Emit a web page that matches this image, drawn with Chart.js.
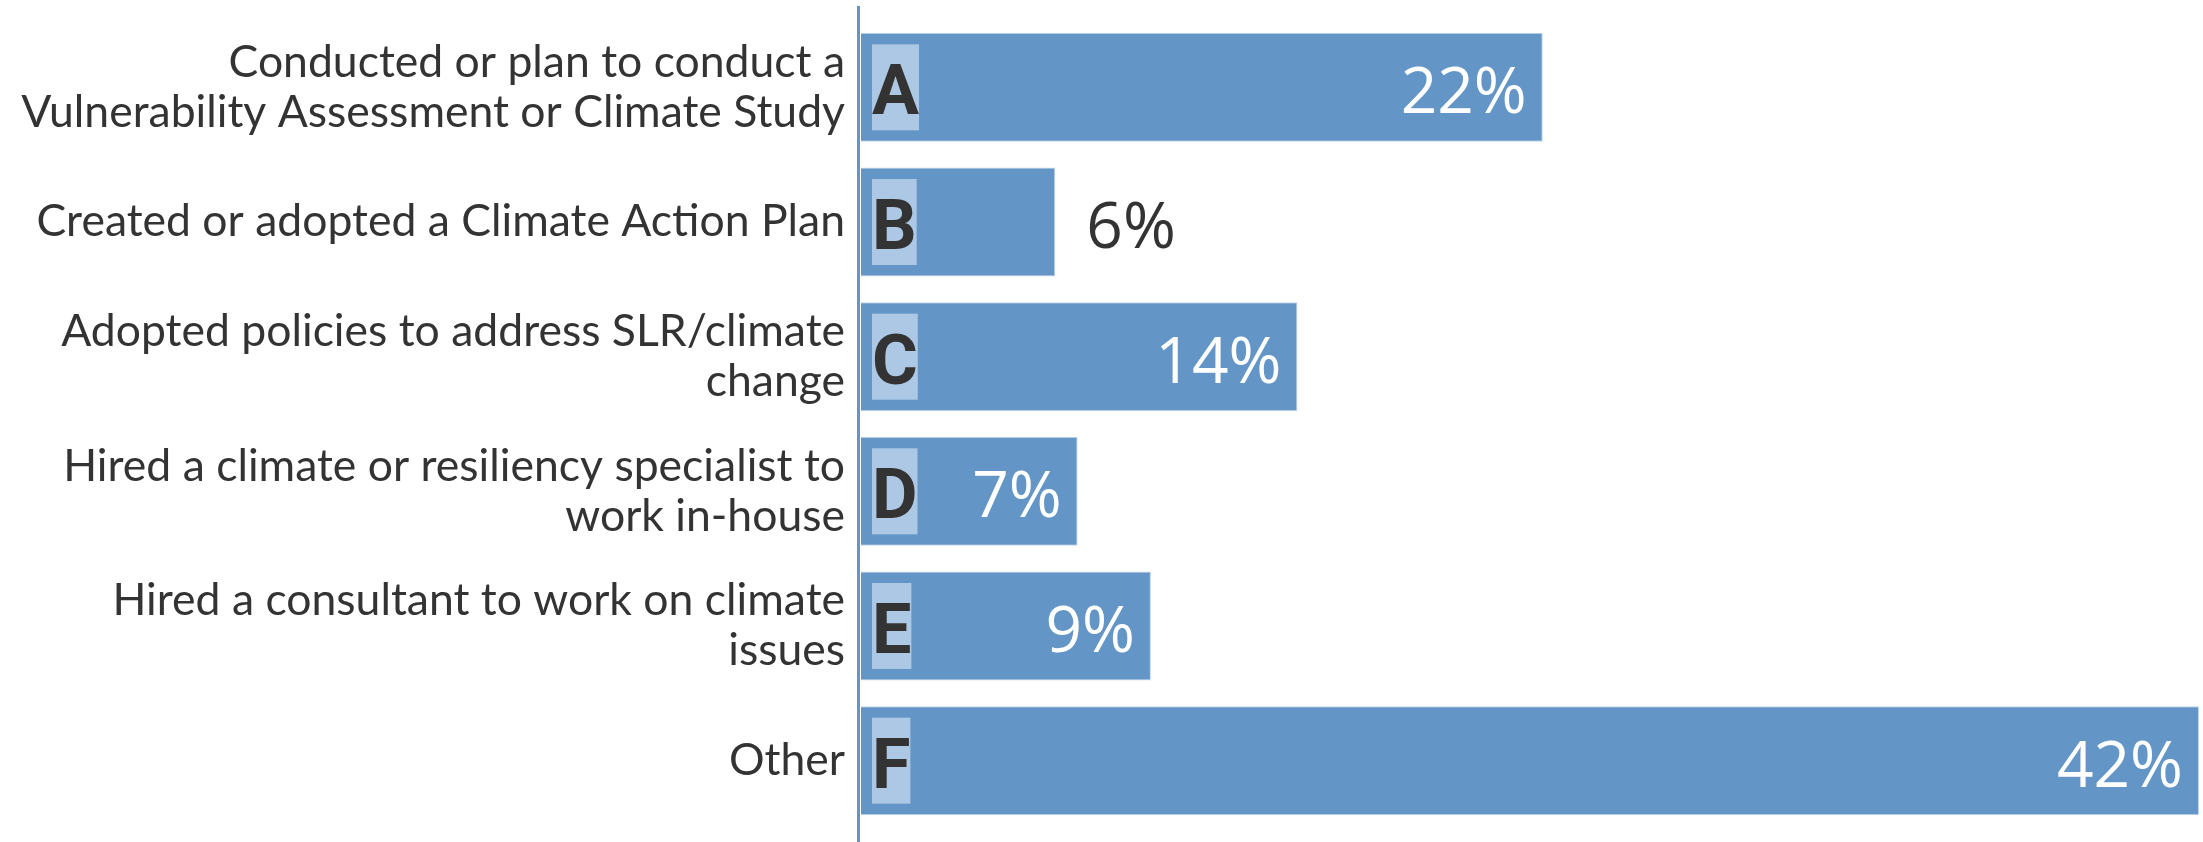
<!DOCTYPE html>
<html lang="en">
<head>
  <meta charset="UTF-8" />
  <title>Climate actions</title>
  <script src="https://cdn.jsdelivr.net/npm/chart.js"></script>
  <style>
    html, body {
      margin: 0;
      padding: 0;
      background: #ffffff;
    }

    .chart-wrapper {
      width: 2203px;
      height: 842px;
      position: relative;
    }
  </style>
</head>
<body>
  <div class="chart-wrapper"><canvas id="actionsChart"></canvas></div>

  <script>
    const categories = [
      ['Conducted or plan to conduct a', 'Vulnerability Assessment or Climate Study'],
      'Created or adopted a Climate Action Plan',
      ['Adopted policies to address SLR/climate', 'change'],
      ['Hired a climate or resiliency specialist to', 'work in-house'],
      ['Hired a consultant to work on climate', 'issues'],
      'Other'
    ];
    const letters = ['A', 'B', 'C', 'D', 'E', 'F'];
    const shares = [21.4, 6.1, 13.7, 6.8, 9.1, 42];
    const shareLabels = ['22%', '6%', '14%', '7%', '9%', '42%'];

    // bars whose value is written after the bar instead of inside it
    const labelOutside = [1];

    const barColor = '#6395c6';
    const boxColor = '#adc8e4';
    const textDark = '#333333';

    const barDecor = {
      id: 'barDecor',
      afterDatasetsDraw(chart) {
        const ctx = chart.ctx;
        const meta = chart.getDatasetMeta(0);
        ctx.save();
        meta.data.forEach((bar, i) => {
          const left = bar.base;
          const cy = bar.y;

          // letter tag
          ctx.font = 'bold 70px Roboto';
          const w = ctx.measureText(letters[i]).width;
          ctx.fillStyle = boxColor;
          ctx.fillRect(left + 11, cy - 43, w, 86);
          ctx.fillStyle = textDark;
          ctx.textBaseline = 'alphabetic';
          ctx.textAlign = 'left';
          ctx.fillText(letters[i], left + 11, cy + 27);

          // value
          ctx.font = '64px "Open Sans"';
          if (labelOutside.includes(i)) {
            ctx.fillStyle = textDark;
            ctx.textAlign = 'left';
            ctx.fillText(shareLabels[i], bar.x + 31, cy + 26);
          } else {
            ctx.fillStyle = '#ffffff';
            ctx.textAlign = 'right';
            ctx.fillText(shareLabels[i], bar.x - 16, cy + 26);
          }
        });
        ctx.restore();
      },
      afterDraw(chart) {
        const ctx = chart.ctx;
        ctx.save();
        ctx.strokeStyle = barColor;
        ctx.lineWidth = 3;
        ctx.beginPath();
        ctx.moveTo(chart.chartArea.left - 2.5, 6);
        ctx.lineTo(chart.chartArea.left - 2.5, chart.height);
        ctx.stroke();
        ctx.restore();
      }
    };

    new Chart(document.getElementById('actionsChart').getContext('2d'), {
      type: 'bar',
      data: {
        labels: categories,
        datasets: [{
          data: shares,
          backgroundColor: barColor,
          borderColor: '#c3d6ea',
          borderWidth: 1,
          borderSkipped: 'left',
          barPercentage: 0.81,
          categoryPercentage: 1
        }]
      },
      options: {
        indexAxis: 'y',
        responsive: true,
        maintainAspectRatio: false,
        animation: false,
        layout: {
          padding: { top: 20, bottom: 14, right: 4, left: 0 }
        },
        plugins: {
          legend: { display: false },
          tooltip: { enabled: false }
        },
        scales: {
          x: {
            display: false,
            min: 0,
            max: 42
          },
          y: {
            afterFit(scale) {
              scale.width = 861;
              // labels may spill over the top/bottom, bars keep the full height
              scale.paddingTop = 0;
              scale.paddingBottom = 0;
            },
            grid: { display: false, drawTicks: false },
            border: { display: false },
            ticks: {
              padding: 16,
              color: textDark,
              font: { family: 'Lato', size: 44.5, lineHeight: 1.12 }
            }
          }
        }
      },
      plugins: [barDecor]
    });
  </script>
</body>
</html>
